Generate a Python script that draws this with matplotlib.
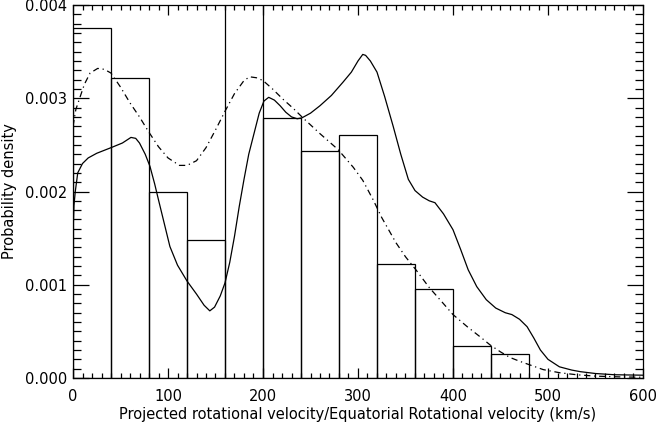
import matplotlib
matplotlib.use("Agg")
import matplotlib.pyplot as plt
import numpy as np
from matplotlib.ticker import MultipleLocator, FormatStrFormatter

# histogram: left edges of 40 km/s bins and their densities
bin_left = [0, 40, 80, 120, 160, 200, 240, 280, 320, 360, 400, 440]
bin_density = [3.75e-3, 3.22e-3, 2.00e-3, 1.48e-3, 4.05e-3, 2.79e-3,
               2.43e-3, 2.61e-3, 1.22e-3, 0.954e-3, 0.344e-3, 0.255e-3]

# solid curve (x in km/s, y in units of 1e-3)
solid_x = [0, 1, 2.4, 5, 10, 16, 25, 40, 52, 61, 66, 70, 76, 81, 86, 90, 96,
           102, 110, 120, 130, 138, 144, 149, 155, 160, 165, 170, 175, 180,
           185, 190, 196, 201, 206, 212, 218, 224, 230, 236, 241, 250, 260,
           272, 284, 293, 300, 305, 308, 313, 320, 328, 337, 345, 353, 360,
           368, 375, 381, 390, 400, 408, 416, 425, 435, 445, 455, 462, 470,
           478, 485, 492, 500, 512, 525, 534, 550, 570, 600]
solid_y = [1.55, 1.85, 2.0, 2.2, 2.3, 2.36, 2.41, 2.47, 2.52, 2.58, 2.57, 2.52,
           2.40, 2.27, 2.08, 1.91, 1.66, 1.41, 1.21, 1.04, 0.90, 0.78, 0.72,
           0.76, 0.88, 1.02, 1.24, 1.52, 1.84, 2.13, 2.40, 2.60, 2.84, 2.97,
           3.01, 2.98, 2.92, 2.85, 2.80, 2.78, 2.79, 2.84, 2.92, 3.03, 3.17,
           3.28, 3.40, 3.47, 3.46, 3.40, 3.28, 3.02, 2.70, 2.40, 2.13, 2.01,
           1.94, 1.90, 1.88, 1.76, 1.59, 1.38, 1.16, 0.98, 0.84, 0.75, 0.70,
           0.68, 0.63, 0.55, 0.43, 0.30, 0.20, 0.12, 0.085, 0.068, 0.048,
           0.035, 0.03]

# dash-dot curve
dashdot_x = [0, 3, 7, 12, 18, 26, 33, 40, 50, 60, 70, 79, 90, 100, 112, 120,
             130, 140, 150, 160, 170, 180, 186, 193, 200, 210, 221, 232, 242,
             260, 279, 295, 305, 316, 325, 340, 350, 361, 375, 388, 400, 415,
             430, 439, 450, 460, 470, 481, 495, 512, 530, 550, 575, 600]
dashdot_y = [2.7, 2.88, 3.0, 3.15, 3.27, 3.32, 3.31, 3.27, 3.12, 2.95, 2.80,
             2.65, 2.48, 2.36, 2.28, 2.28, 2.33, 2.47, 2.66, 2.86, 3.05, 3.19,
             3.23, 3.22, 3.19, 3.10, 2.99, 2.89, 2.79, 2.62, 2.45, 2.26, 2.12,
             1.91, 1.72, 1.45, 1.30, 1.16, 0.97, 0.82, 0.68, 0.55, 0.43, 0.355,
             0.28, 0.22, 0.18, 0.14, 0.09, 0.057, 0.035, 0.02, 0.012, 0.008]

fig = plt.figure(figsize=(6.57, 4.25), dpi=100)
ax = fig.add_axes([73 / 657, 1 - 378 / 425, 570 / 657, 373 / 425])

ax.bar(bin_left, bin_density, width=40, align="edge", fill=False,
       edgecolor="black", linewidth=0.9)
ax.plot(solid_x, np.array(solid_y) * 1e-3, color="black", linewidth=0.9)
ax.plot(dashdot_x, np.array(dashdot_y) * 1e-3, color="black", linewidth=0.9,
        dashes=(5, 3, 1, 3))

ax.set_xlim(0, 600)
ax.set_ylim(0, 0.004)
ax.xaxis.set_major_locator(MultipleLocator(100))
ax.xaxis.set_minor_locator(MultipleLocator(10))
ax.yaxis.set_major_locator(MultipleLocator(0.001))
ax.yaxis.set_minor_locator(MultipleLocator(0.0001))
ax.yaxis.set_major_formatter(FormatStrFormatter("%.3f"))

ax.tick_params(axis="x", which="major", direction="in", length=7.5, width=0.9,
               top=True, labelsize=10.5, pad=8)
ax.tick_params(axis="x", which="minor", direction="in", length=3.7, width=0.9, top=True)
ax.tick_params(axis="y", which="major", direction="in", length=11.5, width=0.9,
               right=True, labelsize=10.5, pad=4)
ax.tick_params(axis="y", which="minor", direction="in", length=5.7, width=0.9, right=True)
for s in ax.spines.values():
    s.set_linewidth(0.9)

ax.set_xlabel("Projected rotational velocity/Equatorial Rotational velocity (km/s)",
              fontsize=10.5, labelpad=2)
ax.set_ylabel("Probability density", fontsize=10.5, labelpad=6)

fig.savefig("out.png", dpi=100)
